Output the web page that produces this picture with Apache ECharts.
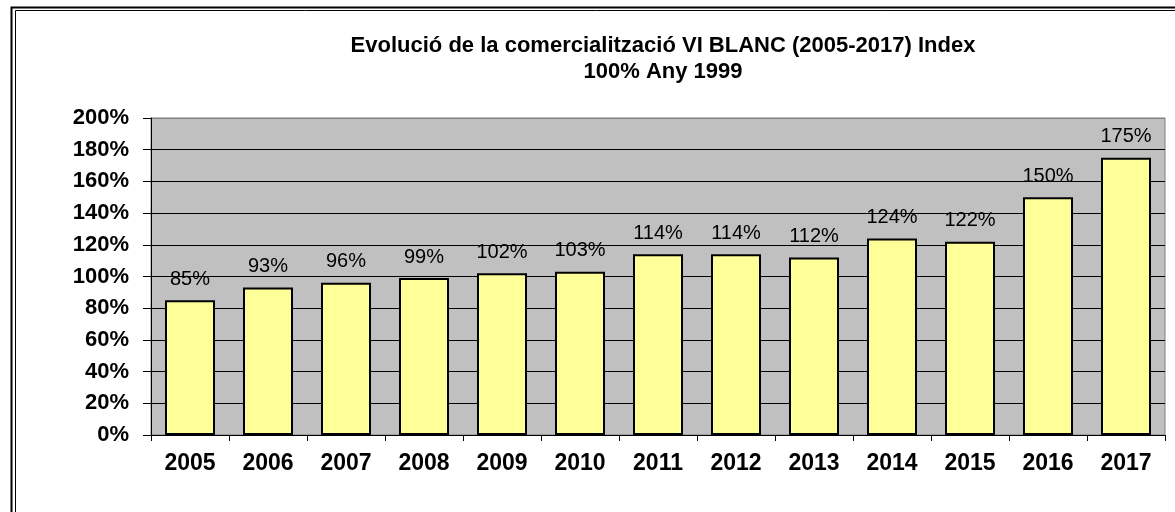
<!DOCTYPE html>
<html>
<head>
<meta charset="utf-8">
<script src="https://cdn.jsdelivr.net/npm/echarts@6/dist/echarts.min.js"></script>
<style>
  html, body { margin: 0; padding: 0; background: #fff; }
  #chart { width: 1175px; height: 512px; }
</style>
</head>
<body>
<div id="chart"></div>
<script>
const years = ['2005', '2006', '2007', '2008', '2009', '2010', '2011', '2012', '2013', '2014', '2015', '2016', '2017'];
const indexValues = [85, 93, 96, 99, 102, 103, 114, 114, 112, 124, 122, 150, 175];
const titleLines = ['Evolució de la comercialització VI BLANC (2005-2017) Index', '100% Any 1999'];

const chart = echarts.init(document.getElementById('chart'));

// gridlines black, top one grey like the plot border
const gridColors = ['#000', '#000', '#000', '#000', '#000', '#000', '#000', '#000', '#000', '#000', '#808080'];
const font = '"Liberation Sans", Arial, sans-serif';

const option = {
  animation: false,
  backgroundColor: '#fff',
  textStyle: { fontFamily: font },
  title: {
    text: titleLines.join('\n'),
    left: 658,
    top: 28,
    textAlign: 'center',
    textStyle: {
      fontSize: 22,
      fontWeight: 'bold',
      color: '#000',
      lineHeight: 26,
      fontFamily: font
    }
  },
  graphic: [
    {
      type: 'rect',
      shape: { x: 11.5, y: 7.5, width: 1200, height: 600 },
      style: { fill: 'none', stroke: '#000', lineWidth: 2 }
    },
    {
      type: 'rect',
      shape: { x: 15.5, y: 10.5, width: 1200, height: 600 },
      style: { fill: 'none', stroke: '#000', lineWidth: 1 }
    }
  ],
  grid: {
    left: 151,
    right: 10,
    top: 118,
    bottom: 77,
    show: true,
    backgroundColor: '#C0C0C0',
    borderColor: '#808080',
    borderWidth: 1
  },
  xAxis: {
    type: 'category',
    data: years,
    axisLine: { lineStyle: { color: '#000', width: 1 } },
    axisTick: { show: true, length: 6, lineStyle: { color: '#000' } },
    axisLabel: {
      margin: 17,
      fontSize: 23,
      fontWeight: 'bold',
      color: '#000'
    }
  },
  yAxis: {
    type: 'value',
    min: 0,
    max: 200,
    interval: 20,
    axisLine: { show: true, lineStyle: { color: '#000', width: 1 } },
    axisTick: { show: true, length: 8, lineStyle: { color: '#000' } },
    axisLabel: {
      margin: 22,
      fontSize: 22,
      fontWeight: 'bold',
      color: '#000',
      formatter: '{value}%'
    },
    splitLine: { show: true, lineStyle: { color: gridColors, width: 1 } }
  },
  series: [
    {
      type: 'bar',
      data: indexValues,
      barWidth: 50,
      itemStyle: {
        color: '#FFFF99',
        borderColor: '#000',
        borderWidth: 2
      },
      label: {
        show: true,
        position: 'top',
        distance: 11,
        fontSize: 20,
        color: '#000',
        formatter: '{c}%'
      }
    }
  ]
};

chart.setOption(option);
</script>
</body>
</html>
